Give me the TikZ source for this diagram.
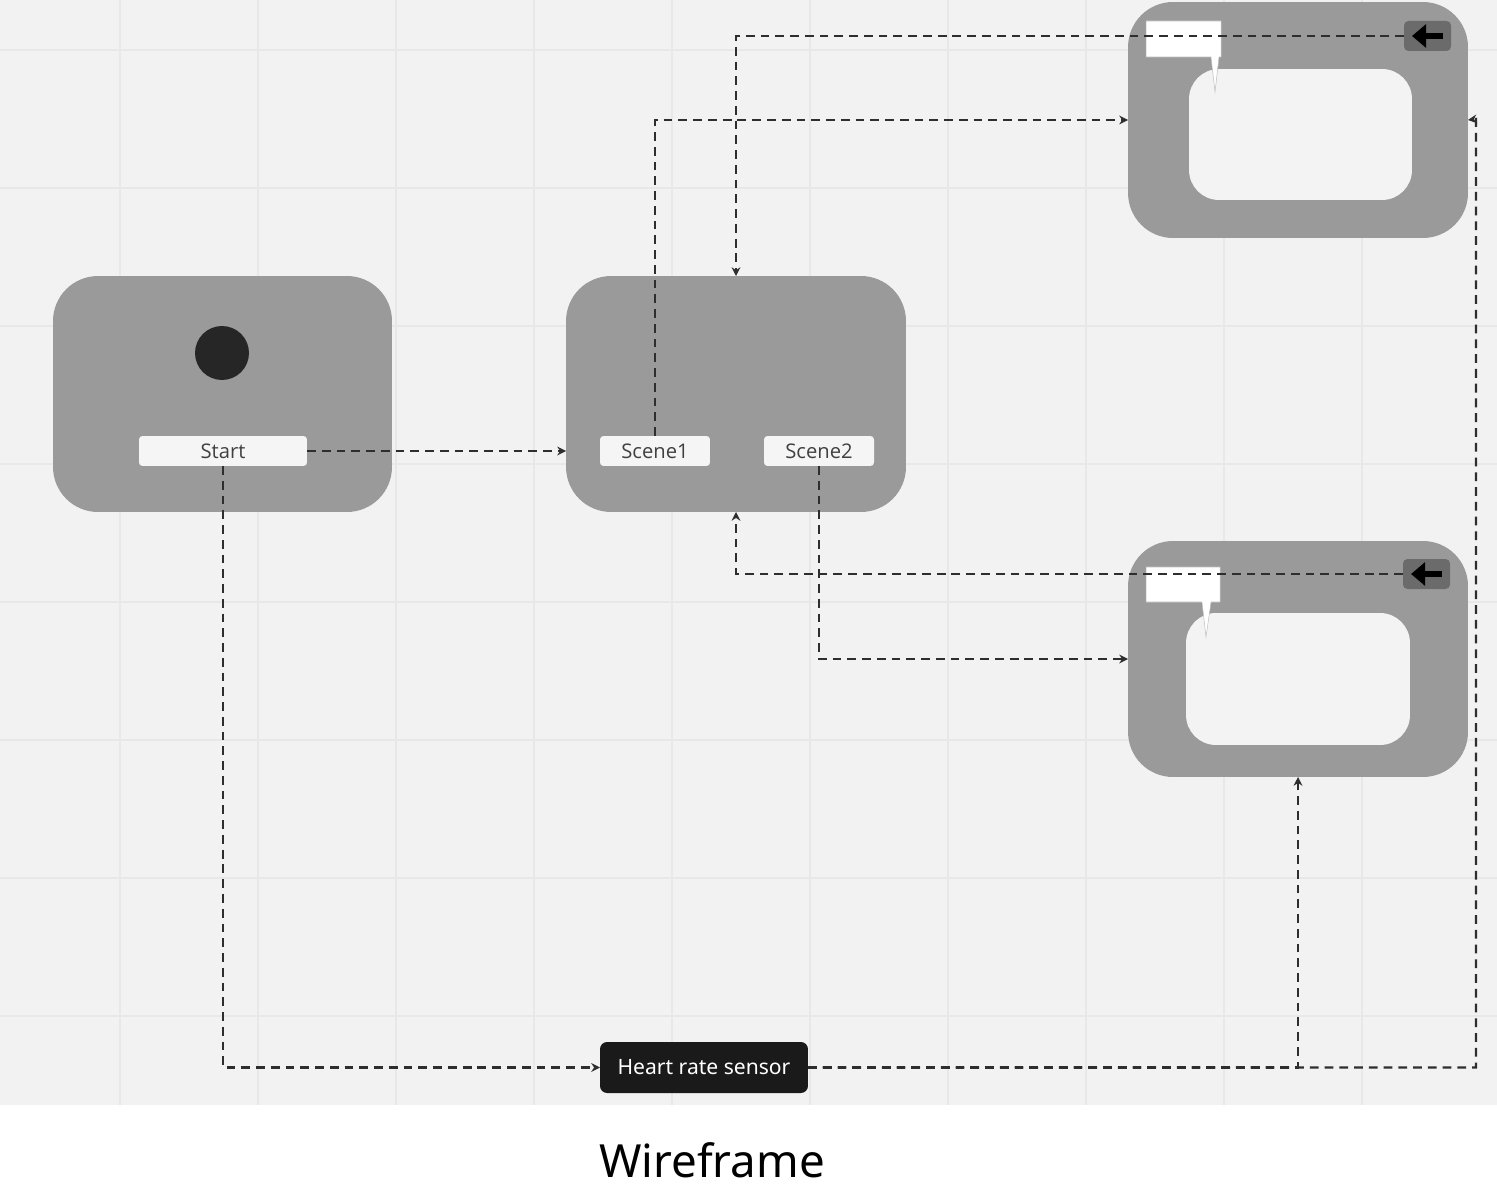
\documentclass[tikz,border=0pt]{standalone}
\usepackage{fontspec}
\setmainfont{Open Sans}
\newfontfamily\hrsfont{Noto Sans}
\usetikzlibrary{arrows.meta,calc}
\definecolor{bgc}{HTML}{F2F2F2}
\definecolor{gridc}{HTML}{E8E8E8}
\definecolor{panelc}{HTML}{9A9A9A}
\definecolor{btnc}{HTML}{F5F5F5}
\definecolor{innerc}{HTML}{F3F3F3}
\definecolor{dashc}{HTML}{2E2E2E}
\definecolor{backc}{HTML}{6B6B6B}
\definecolor{dotc}{HTML}{262626}
\definecolor{hrsc}{HTML}{1A1A1A}
\definecolor{txtc}{HTML}{404040}
\tikzset{
  panel/.style={fill=panelc, rounded corners=0.9cm, inner sep=0pt, outer sep=0pt, minimum width=6.8cm, minimum height=4.72cm},
  innerbox/.style={fill=innerc, rounded corners=0.6cm, inner sep=0pt, outer sep=0pt},
  btn/.style={fill=btnc, rounded corners=2pt, inner sep=0pt, outer sep=0pt, minimum height=0.6cm, text=txtc, font=\fontsize{11.5}{13}\selectfont},
  backbtn/.style={fill=backc, rounded corners=2.5pt, inner sep=0pt, outer sep=0pt, minimum width=0.94cm, minimum height=0.6cm},
  bubble/.style={fill=white, draw=black!25, line width=0.3pt},
  conn/.style={draw=dashc, line width=1.3pt, dash pattern=on 5pt off 3.4pt, -{Stealth[length=5pt,width=5pt]}},
  backarrow/.style={draw=black, line width=3.2pt, -{Triangle[length=8pt,width=13pt]}},
}
\begin{document}
\begin{tikzpicture}[x=0.02cm,y=-0.02cm]
% page and background
\useasboundingbox (0,0) rectangle (1497,1189);
\fill[white] (0,0) rectangle (1497,1189);
\fill[bgc] (0,0) rectangle (1497,1105);
\foreach \gx in {120,258,396,534,672,810,948,1086,1224,1362}
  \draw[gridc, line width=1pt] (\gx,0) -- (\gx,1105);
\foreach \gy in {50,188,326,464,602,740,878,1016}
  \draw[gridc, line width=1pt] (0,\gy) -- (1497,\gy);

% panels
\node[panel, minimum width=6.78cm] (startp) at (222.5,394) {};
\node[panel] (mid) at (736,394) {};
\node[panel] (tr) at (1298,120) {};
\node[panel] (br) at (1298,659) {};

% start panel content
\node[circle, fill=dotc, inner sep=0pt, minimum size=1.08cm] (dot) at (222,353) {};
\node[btn, minimum width=3.36cm] (startbtn) at (223,451) {Start};

% middle panel content
\node[btn, minimum width=2.2cm] (scene1) at (655,451) {Scene1};
\node[btn, minimum width=2.2cm] (scene2) at (819,451) {Scene2};

% top-right panel content
\node[innerbox, minimum width=4.46cm, minimum height=2.62cm] (trin) at (1300.5,134.5) {};
\path[bubble] (1146,21) -- (1221,21) -- (1221,57) -- (1219,57) -- (1215,92) -- (1211,57) -- (1146,57) -- cycle;
\node[inner sep=0pt, minimum width=1.5cm, minimum height=0.72cm] (trbub) at (1183.5,39) {};
\node[backbtn] (trback) at (1427.5,36) {};
\draw[backarrow] (1443,36) -- (1412,36);

% bottom-right panel content
\node[innerbox, minimum width=4.48cm, minimum height=2.64cm] (brin) at (1298,679) {};
\path[bubble] (1146,567) -- (1220,567) -- (1220,602) -- (1211,602) -- (1206,637) -- (1202,602) -- (1146,602) -- cycle;
\node[inner sep=0pt, minimum width=1.48cm, minimum height=0.7cm] (brbub) at (1183,584.5) {};
\node[backbtn] (brback) at (1426.5,574) {};
\draw[backarrow] (1442,574) -- (1411,574);

% heart rate sensor
\node[fill=hrsc, rounded corners=4pt, inner sep=0pt, outer sep=0pt, minimum width=4.16cm, minimum height=1.02cm, text=white, font=\hrsfont\fontsize{12}{14}\selectfont] (hrs) at (704,1067.5) {Heart rate sensor};

% caption
\node[font=\hrsfont\fontsize{26}{30}\selectfont, text=black] (cap) at (712,1160) {Wireframe};

% connectors
\coordinate (rightrail) at (1476,119);
\draw[conn] (startbtn.east) -- (mid.west |- startbtn.east);
\draw[conn] (startbtn.south) |- (hrs.west);
\draw[conn] (scene1.north) |- (tr.west);
\draw[conn] (trback.west) -| (mid.north);
\draw[conn] (scene2.south) |- (br.west);
\draw[conn] (brback.west) -| (mid.south);
\draw[conn] (hrs.east) -| (br.south);
\draw[conn] (hrs.east) -| (rightrail) -- (tr.east);
\end{tikzpicture}
\end{document}
